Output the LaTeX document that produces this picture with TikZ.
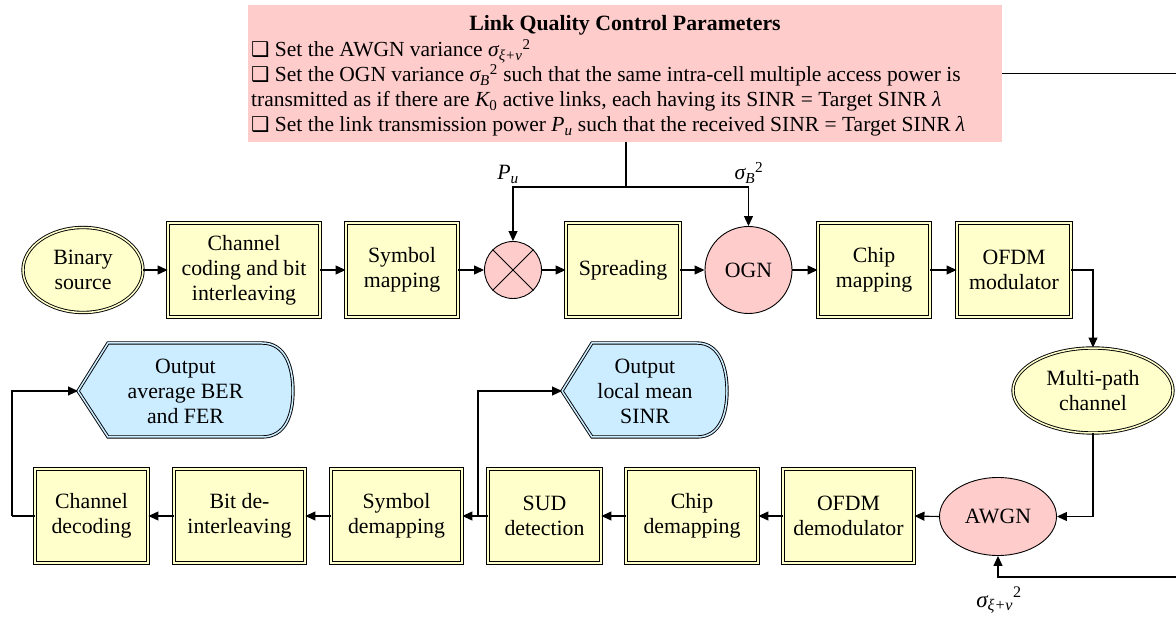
\documentclass[tikz,border=0pt]{standalone}
\usepackage{fontspec}
\setmainfont{Liberation Serif}
\newfontfamily\dejavu{DejaVu Sans}
\usetikzlibrary{arrows.meta,shapes.geometric}
\definecolor{yel}{RGB}{255,255,204}
\definecolor{pnk}{RGB}{255,204,204}
\definecolor{blu}{RGB}{204,236,255}
\newcommand\chk{{\dejavu\fontsize{20.5}{21}\selectfont ❑}}
\newcommand\sxv{{\itshape σ}\textsubscript{\itshape ξ+ν}\textsuperscript{2}}
\newcommand\sB{{\itshape σ}\textsubscript{\itshape B}\textsuperscript{2}}
\newcommand\Pu{{\itshape P}\textsubscript{\itshape u}}
\begin{document}
\begin{tikzpicture}[x=1pt,y=-1pt,
  every node/.style={font=\fontsize{21.8}{25}\selectfont, inner sep=0pt},
  partxt/.style={anchor=base west, font=\fontsize{21.5}{25}\selectfont},
  dbl/.style={draw=black, line width=0.9pt, double distance=1.5pt},
  box/.style={dbl, double=yel, fill=yel, minimum height=94pt, align=center},
  ybell/.style={dbl, double=yel, fill=yel, ellipse, align=center},
  pkell/.style={draw=black, line width=0.9pt, fill=pnk, ellipse, align=center},
  outtxt/.style={align=center},
  arr/.style={-{Triangle[length=10pt,width=9pt]}, line width=1.1pt},
  ln/.style={line width=1.1pt}]
\useasboundingbox (0,0) rectangle (1176,617);

% parameter box
\node[fill=pnk, minimum width=754pt, minimum height=137pt] (par) at (625,73.5) {};
\node[font=\bfseries\fontsize{21.8}{25}\selectfont, anchor=base] (title) at (625,31) {Link Quality Control Parameters};
\node[partxt] (l1) at (251,57) {\chk\ Set the AWGN variance \sxv};
\node[partxt] (l2) at (251,82) {\chk\ Set the OGN variance \sB\ such that the same intra-cell multiple access power is};
\node[partxt] (l3) at (251,107) {transmitted as if there are {\itshape K}\textsubscript{0} active links, each having its SINR = Target SINR {\itshape λ}};
\node[partxt] (l4) at (251,132) {\chk\ Set the link transmission power \Pu\ such that the received SINR = Target SINR {\itshape λ}};

% top row
\node[ybell, minimum width=120pt, minimum height=85pt] (src) at (83,270) {Binary\\source};
\node[box, minimum width=152pt] (cc) at (244,270) {Channel\\coding and bit\\interleaving};
\node[box, minimum width=112pt] (sym) at (402,270) {Symbol\\mapping};
\node[draw=black, line width=0.9pt, fill=pnk, circle, minimum size=57pt] (mult) at (513,270) {};
\draw[line width=0.8pt] (mult.45) -- (mult.225) (mult.135) -- (mult.315);
\node[box, minimum width=114pt] (spr) at (623,270) {Spreading};
\node[draw=black, line width=0.9pt, fill=pnk, circle, minimum size=87pt] (ogn) at (748.5,270) {OGN};
\node[box, minimum width=112pt] (chip) at (874,270) {Chip\\mapping};
\node[box, minimum width=114pt] (ofdm) at (1014,270) {OFDM\\modulator};

% right side
\node[ybell, minimum width=160pt, minimum height=85pt] (mp) at (1093,390.5) {Multi-path\\channel};
\node[pkell, minimum width=117pt, minimum height=78pt] (awgn) at (998,516.5) {AWGN};

% bottom row
\node[box, minimum width=113pt] (cdec) at (91.5,516) {Channel\\decoding};
\node[box, minimum width=131pt] (bdi) at (239.5,516) {Bit de-\\interleaving};
\node[box, minimum width=131pt] (sdm) at (396.5,516) {Symbol\\demapping};
\node[box, minimum width=113pt] (sud) at (544.5,516) {SUD\\detection};
\node[box, minimum width=132pt] (cdm) at (692,516) {Chip\\demapping};
\node[box, minimum width=131pt] (odm) at (848.5,516) {OFDM\\demodulator};

% output shapes
\draw[dbl, double=blu, fill=blu] (78,391) -- (108,343) -- (262,343)
  .. controls (286,343) and (293,368) .. (293,391)
  .. controls (293,414) and (286,437) .. (262,437) -- (108,437) -- cycle;
\coordinate (bertip) at (78,391);
\node[outtxt] (ber) at (185.5,391) {Output\\average BER\\and FER};
\draw[dbl, double=blu, fill=blu] (562,391) -- (592,343) -- (697,343)
  .. controls (720,343) and (727,368) .. (727,391)
  .. controls (727,414) and (720,437) .. (697,437) -- (592,437) -- cycle;
\coordinate (sinrtip) at (562,391);
\node[outtxt] (sinr) at (645,391) {Output\\local mean\\SINR};

% labels
\node[anchor=base] (pu) at (508,180) {\Pu};
\node[anchor=base] (sb) at (749,180) {\sB};
\node[anchor=base, font=\fontsize{23}{25}\selectfont] (sxvl) at (999,607) {\sxv};

% connectors top
\coordinate (j) at (626,187);
\draw[ln] (par.south -| j) -- (j);
\draw[arr] (j) -| (mult.north);
\draw[arr] (j) -| (ogn.north);
\draw[arr] (src) -- (cc);
\draw[arr] (cc) -- (sym);
\draw[arr] (sym) -- (mult);
\draw[arr] (mult) -- (spr);
\draw[arr] (spr) -- (ogn);
\draw[arr] (ogn) -- (chip);
\draw[arr] (chip) -- (ofdm);
\draw[arr] (ofdm.east) -| (mp.north);
\draw[arr] (mp.south) |- (awgn.east);
\coordinate (farA) at (1190,73.5);
\coordinate (farB) at (1190,577);
\draw[arr] (par.east) -- (farA) -- (farB) -| (awgn.south);

% connectors bottom
\draw[arr] (awgn.west) -- (odm.east);
\draw[arr] (odm) -- (cdm);
\draw[arr] (cdm) -- (sud);
\draw[arr] (sud) -- (sdm);
\draw[arr] (sdm) -- (bdi);
\draw[arr] (bdi) -- (cdec);
\coordinate (br) at (478,516);
\draw[arr] (br) |- (sinrtip);
\coordinate (bl) at (12,516);
\draw[ln] (cdec.west) -- (bl);
\draw[arr] (bl) |- (bertip);
\end{tikzpicture}
\end{document}
